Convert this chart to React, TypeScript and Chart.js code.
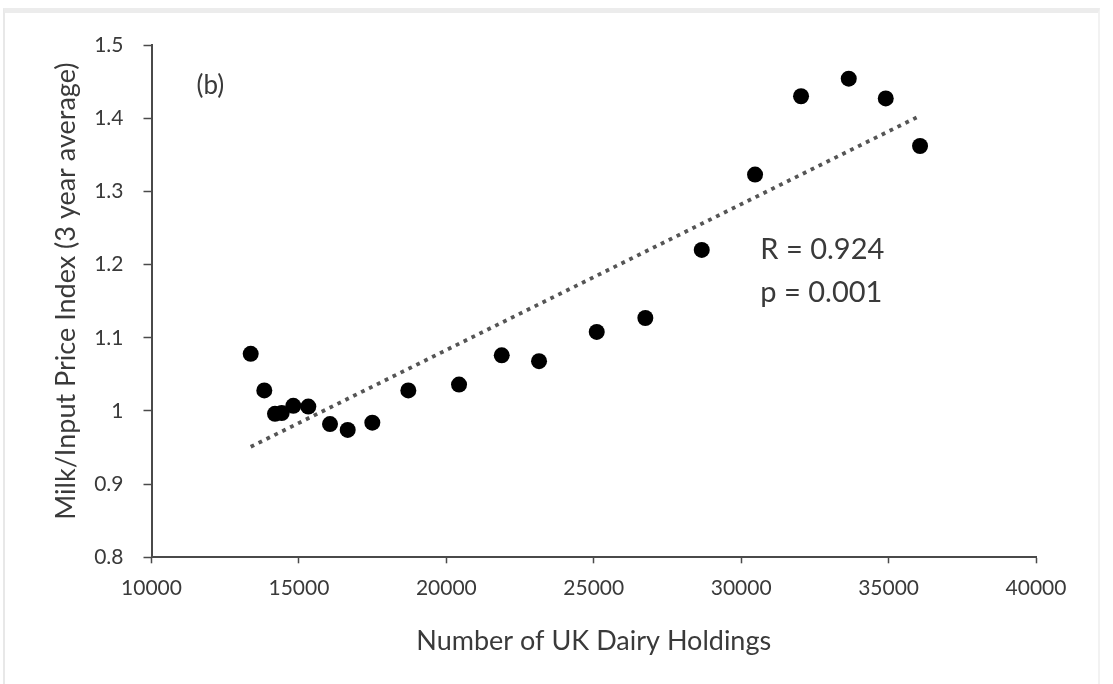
import React, { useEffect, useRef } from "react";
import { Chart, registerables } from "chart.js";

Chart.register(...registerables);

// Data
const holdings = [13365, 13826, 14189, 14416, 14810, 15319, 16055, 16655, 17490, 18711, 20431, 21879, 23144, 25101, 26750, 28663, 30471, 32031, 33649, 34904, 36067];
const priceIndex = [1.078, 1.028, 0.996, 0.997, 1.007, 1.006, 0.982, 0.974, 0.984, 1.028, 1.036, 1.076, 1.068, 1.108, 1.127, 1.220, 1.323, 1.430, 1.454, 1.427, 1.362];
const trendX = [13365, 35950];
const trendY = [0.951, 1.401];
const xTicks = [10000, 15000, 20000, 25000, 30000, 35000, 40000];
const yTicks = [0.8, 0.9, 1.0, 1.1, 1.2, 1.3, 1.4, 1.5];
const panelLabel = "(b)";
const statLines = ["R = 0.924", "p = 0.001"];
const xTitle = "Number of UK Dairy Holdings";
const yTitle = "Milk/Input Price Index (3 year average)";

const FONT = "Lato, 'Open Sans', sans-serif";
const TEXT = "#3a3a3a";
const AXIS = "#4a4a4a";

const annotations = {
  id: "annotations",
  afterDatasetsDraw(chart: any) {
    const { ctx, scales } = chart;
    const x = scales.x;
    const y = scales.y;
    ctx.save();
    ctx.fillStyle = TEXT;
    ctx.textBaseline = "middle";
    ctx.font = `26px ${FONT}`;
    ctx.textAlign = "center";
    ctx.fillText(panelLabel, x.getPixelForValue(12000), y.getPixelForValue(1.445));
    ctx.font = `29px ${FONT}`;
    ctx.textAlign = "left";
    ctx.fillText(statLines[0], x.getPixelForValue(30650), y.getPixelForValue(1.22));
    ctx.fillText(statLines[1], x.getPixelForValue(30650), y.getPixelForValue(1.161));
    // y axis title, centred slightly above the axis middle as in the reference
    ctx.font = `27px ${FONT}`;
    ctx.textAlign = "center";
    ctx.translate(66, (y.top + y.bottom) / 2 - 10);
    ctx.rotate(-Math.PI / 2);
    ctx.fillText(yTitle, 0, 0);
    ctx.restore();
  },
};

export default function App() {
  const ref = useRef<HTMLCanvasElement>(null);
  useEffect(() => {
    if (!ref.current) return;
    const chart = new Chart(ref.current, {
      type: "scatter",
      data: {
        datasets: [
          {
            label: "points",
            data: holdings.map((h, i) => ({ x: h, y: priceIndex[i] })),
            backgroundColor: "#000",
            borderColor: "#000",
            borderWidth: 0,
            pointRadius: 8,
            showLine: false,
          },
          {
            label: "trend",
            data: trendX.map((h, i) => ({ x: h, y: trendY[i] })),
            showLine: true,
            borderColor: "#555",
            borderWidth: 3.8,
            borderDash: [3.8, 5],
            pointRadius: 0,
            fill: false,
          },
        ],
      },
      options: {
        responsive: false,
        animation: false,
        devicePixelRatio: 1,
        layout: { padding: { left: 0, top: 45, right: 77, bottom: 0 } },
        plugins: { legend: { display: false }, tooltip: { enabled: false } },
        scales: {
          x: {
            type: "linear",
            min: 10000,
            max: 40000,
            afterBuildTicks: (s: any) => { s.ticks = xTicks.map((v) => ({ value: v })); },
            afterFit: (s: any) => { s.height = 684 - 557.3; },
            ticks: {
              font: { family: FONT, size: 21 },
              color: TEXT,
              padding: 12,
              maxRotation: 0,
              callback: (v: any) => String(v),
            },
            grid: { drawOnChartArea: false, drawTicks: true, tickLength: 6, tickColor: AXIS, tickWidth: 1.5 },
            border: { color: AXIS, width: 2 },
            title: {
              display: true,
              text: xTitle,
              font: { family: FONT, size: 27 },
              color: TEXT,
              padding: { top: 0, bottom: 27 },
            },
          },
          y: {
            type: "linear",
            min: 0.8,
            max: 1.5,
            afterBuildTicks: (s: any) => { s.ticks = yTicks.map((v) => ({ value: v })); },
            afterFit: (s: any) => { s.width = 151.5; },
            ticks: {
              font: { family: FONT, size: 21 },
              color: TEXT,
              padding: 20,
              callback: (v: any) => String(Math.round(Number(v) * 10) / 10),
            },
            grid: { drawOnChartArea: false, drawTicks: true, tickLength: 8, tickColor: AXIS, tickWidth: 1.5 },
            border: { color: AXIS, width: 2 },
            title: { display: false, text: yTitle },
          },
        },
      },
      plugins: [annotations],
    });
    return () => chart.destroy();
  }, []);

  return (
    <div style={{ position: "absolute", left: 0, top: 0, width: 1113, height: 684, background: "#fff" }}>
      <div
        style={{
          position: "absolute",
          left: 3,
          top: 8,
          width: 1097,
          height: 690,
          borderTop: "5px solid #ececec",
          borderLeft: "2px solid #e8e8e8",
          borderRight: "2px solid #f2f2f2",
          boxSizing: "border-box",
        }}
      />
      <canvas ref={ref} width={1113} height={684} style={{ position: "absolute", left: 0, top: 0 }} />
    </div>
  );
}
